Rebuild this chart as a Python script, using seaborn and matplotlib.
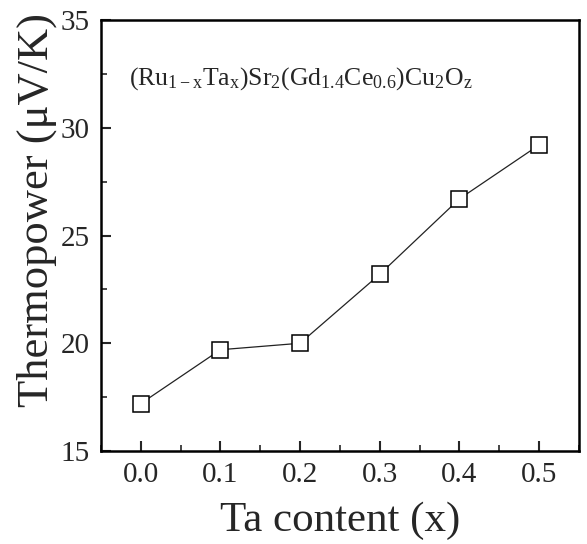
import matplotlib
matplotlib.use("Agg")
import matplotlib.pyplot as plt
import seaborn as sns
import pandas as pd
from matplotlib.ticker import MultipleLocator

ta_content = [0.0, 0.1, 0.2, 0.3, 0.4, 0.5]
thermopower = [17.2, 19.7, 20.0, 23.2, 26.7, 29.2]

sns.set_style("white")
plt.rcParams['font.family'] = ['Liberation Serif', 'DejaVu Serif']
plt.rcParams['mathtext.fontset'] = 'custom'
plt.rcParams['mathtext.rm'] = 'Liberation Serif'
plt.rcParams['mathtext.it'] = 'Liberation Serif'
plt.rcParams['mathtext.default'] = 'regular'

df = pd.DataFrame({"x": ta_content, "y": thermopower})

fig = plt.figure(figsize=(5.87, 5.44), dpi=100)
ax = fig.add_axes([0.172, 0.171, 0.814, 0.792])

sns.lineplot(data=df, x="x", y="y", ax=ax, color="#222222", linewidth=0.9,
             marker="s", markersize=12, markerfacecolor="white",
             markeredgecolor="black", markeredgewidth=1.1)

ax.set_xlim(-0.05, 0.55)
ax.set_ylim(15, 35)
ax.xaxis.set_major_locator(MultipleLocator(0.1))
ax.xaxis.set_minor_locator(MultipleLocator(0.05))
ax.yaxis.set_major_locator(MultipleLocator(5))
ax.yaxis.set_minor_locator(MultipleLocator(2.5))
ax.set_xticks([0.0, 0.1, 0.2, 0.3, 0.4, 0.5])
ax.set_xticklabels(["0.0", "0.1", "0.2", "0.3", "0.4", "0.5"])

ax.tick_params(axis='both', which='major', direction='in', length=7, width=1.5,
               labelsize=21, bottom=True, left=True, top=False, right=False, pad=8)
ax.tick_params(axis='both', which='minor', direction='in', length=4, width=1.2,
               bottom=True, left=True, top=False, right=False)
for s in ax.spines.values():
    s.set_linewidth(1.8)
    s.set_color("black")

ax.set_xlabel("Ta content (x)", fontsize=31, labelpad=10)
ax.set_ylabel("Thermopower (\u03bcV/K)", fontsize=32)
ax.yaxis.set_label_coords(-0.092, 0.56)

ax.text(-0.015, 32.3,
        r"(Ru$_{1-x}$Ta$_{x}$)Sr$_{2}$(Gd$_{1.4}$Ce$_{0.6}$)Cu$_{2}$O$_{z}$",
        fontsize=18.5, va='center', ha='left')

fig.savefig("out.png", dpi=100)
